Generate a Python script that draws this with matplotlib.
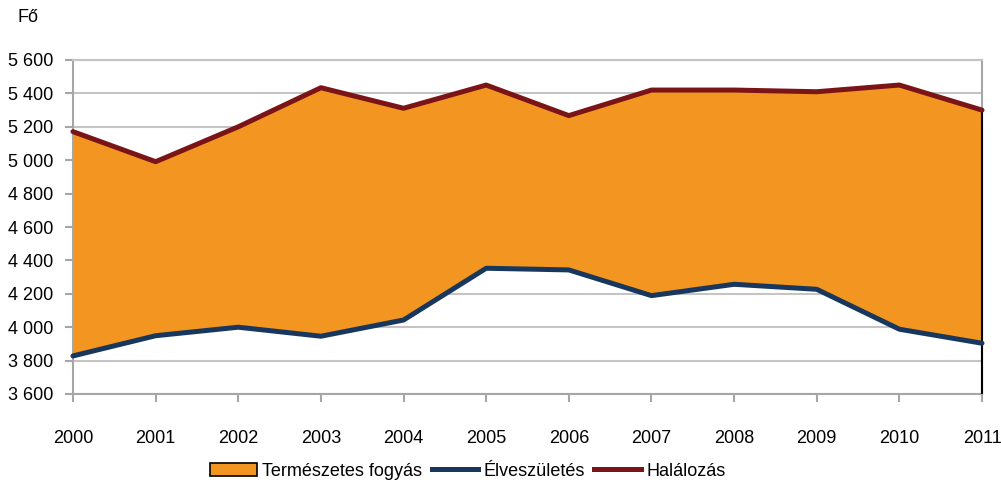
import matplotlib.pyplot as plt
from matplotlib.patches import Patch
from matplotlib.lines import Line2D
from matplotlib.ticker import FuncFormatter

years = [2000, 2001, 2002, 2003, 2004, 2005, 2006, 2007, 2008, 2009, 2010, 2011]
szuletes = [3828, 3949, 4000, 3946, 4043, 4353, 4343, 4189, 4257, 4227, 3988, 3904]
halalozas = [5171, 4991, 5200, 5434, 5311, 5450, 5267, 5420, 5420, 5410, 5450, 5300]

plt.rcParams['font.family'] = ['Liberation Sans', 'DejaVu Sans']
plt.rcParams['font.size'] = 13

orange = "#F39621"
blue = "#17375E"
red = "#7B1416"
grid_grey = "#C4C4C4"

fig = plt.figure(figsize=(10.01, 4.84), dpi=100)
ax = fig.add_axes([73 / 1001, 1 - 394 / 484, (982 - 73) / 1001, (394 - 60) / 484])

ax.fill_between(years, szuletes, halalozas, color=orange, lw=0, zorder=2)
ax.plot(years, szuletes, color=blue, lw=3.6, solid_capstyle="round", zorder=4, clip_on=False)
ax.plot(years, halalozas, color=red, lw=3.6, solid_capstyle="round", zorder=4, clip_on=False)
# right edge of the area is outlined in black
ax.vlines(years[-1], 3600, halalozas[-1], color="black", lw=1.5, zorder=3, clip_on=False)

ax.set_xlim(years[0], years[-1])
ax.set_ylim(3600, 5600)
ax.set_xticks(years)
ax.set_yticks(range(3600, 5601, 200))
ax.yaxis.set_major_formatter(FuncFormatter(lambda v, p: f"{int(v):,}".replace(",", " ")))

ax.grid(axis="y", color=grid_grey, lw=1.5, zorder=1)
for s in ["left", "bottom", "right", "top"]:
    ax.spines[s].set_color("#A6A6A6")
    ax.spines[s].set_linewidth(1.5)
ax.spines["top"].set_color(grid_grey)
ax.tick_params(axis="both", color="#A6A6A6", width=1.5, length=6, labelsize=13, colors="black")
ax.tick_params(axis="x", pad=20)
ax.tick_params(axis="y", pad=8)
for t in ax.get_xticklines() + ax.get_yticklines():
    t.set_color("#A6A6A6")

fig.text(28 / 1001, 1 - 18 / 484, "Fő", fontsize=13, va="center", ha="center")

handles = [
    Patch(facecolor=orange, edgecolor="black", lw=1.2),
    Line2D([0], [0], color=blue, lw=3.6),
    Line2D([0], [0], color=red, lw=3.6),
]
labels = ["Természetes fogyás", "Élveszületés", "Halálozás"]
fig.legend(handles, labels, loc="center", bbox_to_anchor=(468 / 1001, 1 - 471 / 484),
           ncol=3, frameon=False, fontsize=13, handlelength=2.6, handletextpad=0.3,
           columnspacing=0.5)

fig.savefig("out.png", dpi=100)
